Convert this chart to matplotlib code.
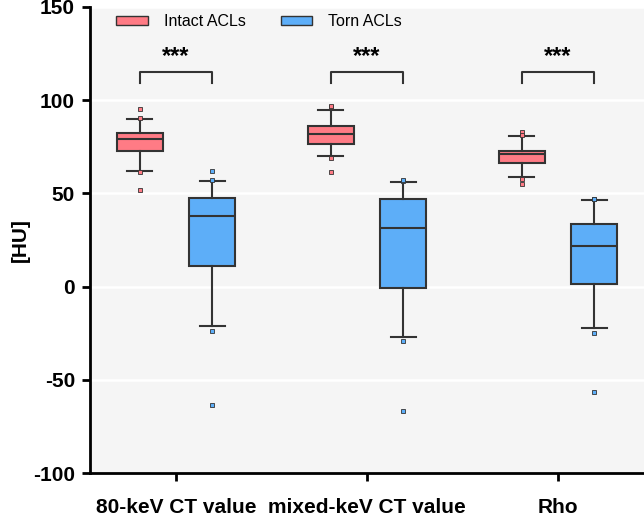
import numpy as np
import matplotlib.pyplot as plt
from matplotlib.patches import Patch

plt.rcParams['font.family'] = ['Liberation Sans', 'DejaVu Sans']
plt.rcParams['axes.unicode_minus'] = False

categories = ["80-keV CT value", "mixed-keV CT value", "Rho"]

# box statistics (HU)
intact_whislo = [62.0, 69.9, 58.8]
intact_q1 = [73.0, 76.3, 66.4]
intact_med = [79.2, 81.7, 71.2]
intact_q3 = [82.5, 86.0, 72.6]
intact_whishi = [90.1, 95.0, 80.7]
intact_fliers = [[95.3, 90.5, 61.5, 52.0], [96.2, 96.7, 69.2, 61.5], [83.0, 81.5, 57.9, 55.3]]

torn_whislo = [-21.1, -27.0, -22.0]
torn_q1 = [11.3, -0.7, 1.6]
torn_med = [37.9, 31.3, 21.6]
torn_q3 = [47.6, 47.0, 33.8]
torn_whishi = [56.9, 56.0, 46.3]
torn_fliers = [[62.0, 57.2, -23.8, -63.5], [56.5, 57.4, -29.3, -66.5], [47.0, 47.0, -25.0, -56.5]]

sig_labels = ["***", "***", "***"]

red = "#FF7B85"
blue = "#5DAEF8"
edge = "#333333"

fig = plt.figure(figsize=(6.44, 5.17), dpi=100)
ax = fig.add_axes([0.14, 0.085, 0.86, 0.9015])
ax.set_facecolor("#F5F5F5")


def stats(lo, q1, med, q3, hi, fl):
    return [dict(whislo=lo[i], q1=q1[i], med=med[i], q3=q3[i], whishi=hi[i], fliers=fl[i])
            for i in range(len(lo))]


x = np.arange(len(categories))
off = 0.19
for data, pos, col in [
    (stats(intact_whislo, intact_q1, intact_med, intact_q3, intact_whishi, intact_fliers), x - off, red),
    (stats(torn_whislo, torn_q1, torn_med, torn_q3, torn_whishi, torn_fliers), x + off, blue),
]:
    ax.bxp(data, positions=pos, widths=0.24, patch_artist=True, manage_ticks=False,
           boxprops=dict(facecolor=col, edgecolor=edge, linewidth=1.5),
           medianprops=dict(color=edge, linewidth=1.5),
           whiskerprops=dict(color=edge, linewidth=1.5),
           capprops=dict(color=edge, linewidth=1.5),
           capwidths=0.13,
           flierprops=dict(marker="s", markersize=3.5, markerfacecolor=col,
                           markeredgecolor=edge, markeredgewidth=0.6))

# significance brackets
for i, lab in enumerate(sig_labels):
    x0, x1 = x[i] - off, x[i] + off
    ax.plot([x0, x0, x1, x1], [109, 115, 115, 109], color=edge, lw=1.5)
    ax.text(x[i], 117.5, lab, ha="center", va="bottom", fontsize=17, fontweight="bold")

ax.set_xlim(-0.45, 2.45)
ax.set_ylim(-100, 150)
ax.set_yticks([-100, -50, 0, 50, 100, 150])
ax.set_xticks(x)
ax.set_xticklabels(categories)
ax.yaxis.grid(True, color="white", lw=1.8)
ax.set_axisbelow(True)
for s in ["top", "right"]:
    ax.spines[s].set_visible(False)
for s in ["left", "bottom"]:
    ax.spines[s].set_linewidth(2)
ax.tick_params(width=2, length=6, labelsize=15, pad=5)
for t in ax.get_xticklabels() + ax.get_yticklabels():
    t.set_fontweight("bold")
ax.tick_params(axis="x", pad=12)
ax.set_ylabel("[HU]", fontsize=15, fontweight="bold", labelpad=2)

handles = [Patch(facecolor=red, edgecolor=edge, lw=1), Patch(facecolor=blue, edgecolor=edge, lw=1)]
ax.legend(handles, ["Intact ACLs", "Torn ACLs"], loc="upper left", bbox_to_anchor=(0.02, 1.015),
          ncol=2, frameon=False, fontsize=11.5, handlelength=2.0, handleheight=0.5,
          columnspacing=2.2, handletextpad=1.0)

fig.savefig("out.png", dpi=100)
